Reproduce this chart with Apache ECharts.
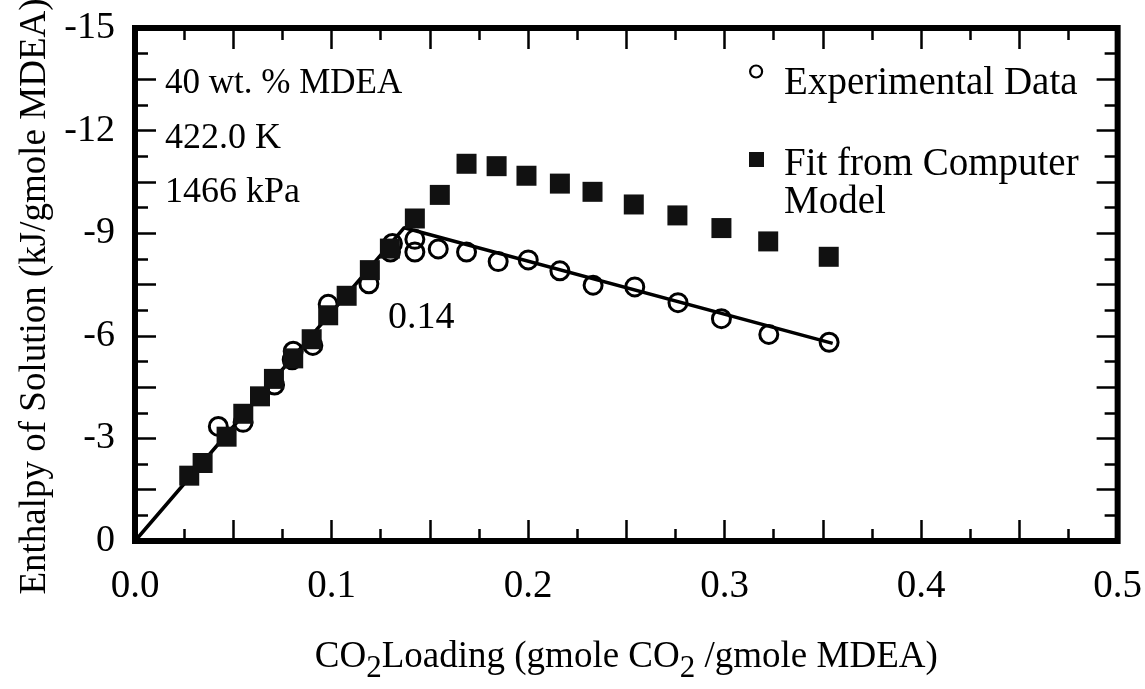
<!DOCTYPE html>
<html>
<head>
<meta charset="utf-8">
<script src="https://cdn.jsdelivr.net/npm/echarts@6/dist/echarts.min.js"></script>
<style>
html,body{margin:0;padding:0;background:#fff;}
#chart{width:1145px;height:689px;}
</style>
</head>
<body>
<div id="chart"></div>
<script>
// CO2 loading (gmole CO2/gmole MDEA) and enthalpy of solution (kJ/gmole MDEA)
const expX = [0.0424, 0.0550, 0.0710, 0.0800, 0.0805, 0.0905, 0.0983, 0.1190, 0.1300, 0.1310, 0.1424, 0.1424, 0.1543, 0.1687, 0.1848, 0.2001, 0.2162, 0.2331, 0.2543, 0.2763, 0.2984, 0.3225, 0.3532];
const expY = [-3.35, -3.47, -4.56, -5.30, -5.55, -5.72, -6.92, -7.52, -8.45, -8.70, -8.82, -8.45, -8.54, -8.45, -8.17, -8.22, -7.90, -7.48, -7.43, -6.97, -6.50, -6.04, -5.81];
const modelX = [0.0276, 0.0344, 0.0466, 0.0551, 0.0636, 0.0707, 0.0805, 0.0899, 0.0983, 0.1077, 0.1195, 0.1297, 0.1424, 0.1551, 0.1687, 0.1840, 0.1992, 0.2162, 0.2328, 0.2538, 0.2760, 0.2984, 0.3222, 0.3530];
const modelY = [-1.91, -2.28, -3.05, -3.72, -4.23, -4.74, -5.34, -5.90, -6.60, -7.17, -7.92, -8.55, -9.43, -10.12, -11.03, -10.96, -10.68, -10.45, -10.21, -9.84, -9.52, -9.15, -8.76, -8.31];
const fitX = [0.0, 0.137, 0.355];
const fitY = [0.0, -9.16, -5.78];
const xTickLabels = ['0.0', '0.1', '0.2', '0.3', '0.4', '0.5'];
const yTickLabels = ['-15', '-12', '-9', '-6', '-3', '0'];
const notes = ['40 wt. % MDEA', '422.0 K', '1466 kPa'];

const FONT = 'Liberation Serif';
const zip = (a, b) => a.map((v, i) => [v, b[i]]);

function xFmt(v) {
  const s = (Math.round(v * 100) / 100).toFixed(1);
  return (Math.abs(v * 10 - Math.round(v * 10)) < 1e-6 && xTickLabels.indexOf(s) >= 0) ? s : '';
}
function yFmt(v) {
  const s = String(Math.round(v));
  return (Math.abs(v / 3 - Math.round(v / 3)) < 1e-6 && yTickLabels.indexOf(s) >= 0) ? s : '';
}

const tickStyle = { color: '#000', width: 2.5 };
function xAxisDef(pos, showLabel, name) {
  return {
    type: 'value', gridIndex: 0, position: pos, offset: 0, min: 0, max: 0.5, interval: 0.05,
    axisLine: { show: false, onZero: false },
    axisTick: { show: true, inside: true, length: 21, lineStyle: tickStyle },
    minorTick: { show: true, splitNumber: 2, length: 12, lineStyle: tickStyle },
    splitLine: { show: false }, minorSplitLine: { show: false },
    axisLabel: { show: showLabel, formatter: xFmt, margin: 26, color: '#000', fontFamily: FONT, fontSize: 39 },
    name: name, nameLocation: 'middle', nameGap: 90,
    nameTextStyle: {
      color: '#000', fontFamily: FONT, fontSize: 37,
      rich: { sub: { fontFamily: FONT, fontSize: 31, color: '#000', padding: [22, 0, 0, 0] } }
    }
  };
}
function yAxisDef(pos, showLabel, name) {
  return {
    type: 'value', gridIndex: 0, position: pos, offset: 0, min: -15, max: 0, interval: 1.5, inverse: true,
    axisLine: { show: false, onZero: false },
    axisTick: { show: true, inside: true, length: 21, lineStyle: tickStyle },
    minorTick: { show: true, splitNumber: 2, length: 13, lineStyle: tickStyle },
    splitLine: { show: false }, minorSplitLine: { show: false },
    axisLabel: { show: showLabel, formatter: yFmt, margin: 20, color: '#000', fontFamily: FONT, fontSize: 38, padding: [10, 0, 0, 0] },
    name: name, nameLocation: 'middle', nameGap: 80,
    nameTextStyle: { color: '#000', fontFamily: FONT, fontSize: 37, padding: [0, 24, 0, 0] }
  };
}

const chart = echarts.init(document.getElementById('chart'), null, { renderer: 'canvas' });
chart.setOption({
  backgroundColor: '#fff',
  animation: false,
  grid: { left: 135, right: 27, top: 28, bottom: 122, show: true, borderColor: '#000', borderWidth: 6, backgroundColor: 'transparent' },
  xAxis: [
    xAxisDef('bottom', true, 'CO{sub|2}Loading (gmole CO{sub|2} /gmole MDEA)'),
    xAxisDef('top', false, '')
  ],
  yAxis: [
    yAxisDef('left', true, 'Enthalpy of Solution (kJ/gmole MDEA)'),
    yAxisDef('right', false, '')
  ],
  legend: [
    {
      data: [{ name: 'Experimental Data', itemStyle: { borderWidth: 2.2 } }],
      formatter: (n) => '{t|' + n + '}',
      left: 749, top: 64, padding: 0, itemWidth: 12, itemHeight: 12,
      textStyle: { color: '#000', fontFamily: FONT, fontSize: 39,
        rich: { t: { color: '#000', fontFamily: FONT, fontSize: 39, padding: [24, 0, 0, 17] } } }
    },
    {
      data: ['Fit from Computer Model'],
      formatter: () => '{t|Fit from Computer}',
      left: 749, top: 145, padding: 0, itemWidth: 15, itemHeight: 15,
      textStyle: { color: '#000', fontFamily: FONT, fontSize: 39,
        rich: { t: { color: '#000', fontFamily: FONT, fontSize: 39, padding: [10, 0, 0, 15] } } }
    }
  ],
  graphic: [
    { type: 'text', left: 165, top: 66, style: { text: notes[0], font: '35px "Liberation Serif"', fill: '#000' } },
    { type: 'text', left: 165, top: 121, style: { text: notes[1], font: '36px "Liberation Serif"', fill: '#000' } },
    { type: 'text', left: 165, top: 175, style: { text: notes[2], font: '36px "Liberation Serif"', fill: '#000' } },
    { type: 'text', left: 388, top: 299, style: { text: '0.14', font: '38px "Liberation Serif"', fill: '#000' } },
    { type: 'text', left: 784, top: 183, style: { text: 'Model', font: '39px "Liberation Serif"', fill: '#000' } }
  ],
  series: [
    {
      name: 'Fit line', type: 'line', data: zip(fitX, fitY), showSymbol: false, symbol: 'none',
      lineStyle: { color: '#000', width: 3.5 }, z: 2, silent: true
    },
    {
      name: 'Experimental Data', type: 'scatter', data: zip(expX, expY), symbol: 'circle', symbolSize: 18,
      itemStyle: { color: 'rgba(0,0,0,0)', borderColor: '#000', borderWidth: 3, opacity: 1 }, z: 3
    },
    {
      name: 'Fit from Computer Model', type: 'scatter', data: zip(modelX, modelY), symbol: 'rect', symbolSize: 20,
      itemStyle: { color: '#111', opacity: 1 }, z: 4
    }
  ]
});
</script>
</body>
</html>
